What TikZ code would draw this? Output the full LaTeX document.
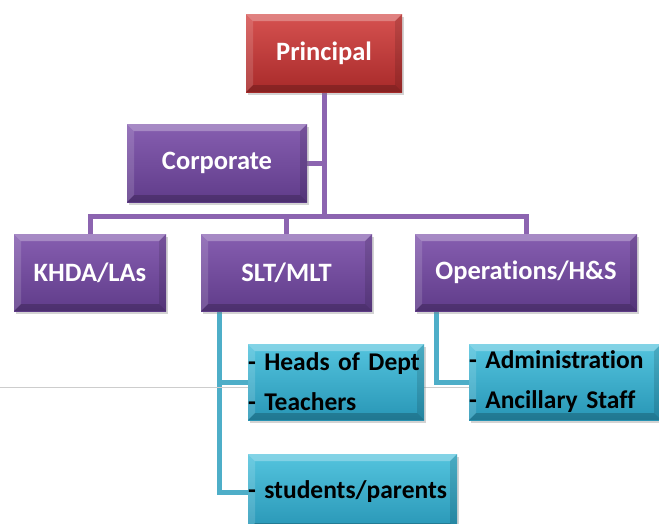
\documentclass[tikz,border=0pt]{standalone}
\usepackage{fontspec}
\setmainfont{Carlito}[Ligatures={NoCommon}]
\usetikzlibrary{backgrounds,shadows}
\definecolor{redTop}{RGB}{214,82,80}
\definecolor{redBot}{RGB}{168,42,42}
\definecolor{purTop}{RGB}{134,94,176}
\definecolor{purBot}{RGB}{96,60,138}
\definecolor{tealTop}{RGB}{84,196,222}
\definecolor{tealBot}{RGB}{40,150,182}
\definecolor{purLine}{RGB}{140,100,176}
\definecolor{tealLine}{RGB}{78,174,200}
\definecolor{slideLine}{RGB}{205,205,205}
\tikzset{
  bevel/.style={path picture={
    \fill[white,opacity=0.28] (path picture bounding box.north west) -- (path picture bounding box.north east)
      -- ([xshift=-7pt,yshift=-7pt]path picture bounding box.north east) -- ([xshift=7pt,yshift=-7pt]path picture bounding box.north west) -- cycle;
    \fill[white,opacity=0.14] (path picture bounding box.north west) -- (path picture bounding box.south west)
      -- ([xshift=7pt,yshift=7pt]path picture bounding box.south west) -- ([xshift=7pt,yshift=-7pt]path picture bounding box.north west) -- cycle;
    \fill[black,opacity=0.12] (path picture bounding box.north east) -- (path picture bounding box.south east)
      -- ([xshift=-7pt,yshift=7pt]path picture bounding box.south east) -- ([xshift=-7pt,yshift=-7pt]path picture bounding box.north east) -- cycle;
    \fill[black,opacity=0.2] (path picture bounding box.south west) -- (path picture bounding box.south east)
      -- ([xshift=-7pt,yshift=7pt]path picture bounding box.south east) -- ([xshift=7pt,yshift=7pt]path picture bounding box.south west) -- cycle;
  }},
  boxbase/.style={rectangle, bevel, inner sep=0pt, font=\fontsize{26.5}{30}\selectfont\bfseries,
    drop shadow={opacity=0.35,shadow xshift=2pt,shadow yshift=-3pt}},
  redbox/.style={boxbase, top color=redTop, bottom color=redBot, text=white},
  purbox/.style={boxbase, top color=purTop, bottom color=purBot, text=white},
  tealbox/.style={boxbase, top color=tealTop, bottom color=tealBot, text=black, align=left,
    font=\fontsize{25.5}{40}\selectfont\bfseries},
  purconn/.style={draw=purLine, line width=5pt},
  tealconn/.style={draw=tealLine, line width=5pt},
}
\begin{document}
\begin{tikzpicture}[x=1pt,y=1pt]
\useasboundingbox (0,0) rectangle (659,-523);
\clip (0,0) rectangle (659,-523);
\draw[slideLine, line width=1pt] (0,-387) -- (659,-387);

\node[redbox, minimum width=156pt, minimum height=78pt] (principal) at (324,-53) {Principal};
\node[purbox, minimum width=180pt, minimum height=78pt] (corporate) at (217,-163) {Corporate};
\node[purbox, minimum width=152pt, minimum height=77pt] (khda) at (90,-272.5) {KHDA/LAs};
\node[purbox, minimum width=171pt, minimum height=77pt] (slt) at (286.5,-272.5) {SLT/MLT};
\node[purbox, minimum width=222pt, minimum height=77pt] (ops) at (526,-272.5) {Operations/H\&S};
\node[tealbox, minimum width=176pt, minimum height=76pt, text width=176pt] (heads) at (336,-382) {- Heads of Dept\\- Teachers};
\node[tealbox, minimum width=192pt, minimum height=76pt, text width=192pt] (admin) at (565,-382) {- Administration\\- Ancillary Staff};
\node[tealbox, minimum width=209pt, minimum height=76pt, text width=209pt] (students) at (352.5,-492) {- students/parents};

\begin{scope}[on background layer]
  \coordinate (hub) at (principal.south |- 0,-216);
  \path[purconn] (principal.south) -- (hub);
  \path[purconn] (corporate.east) -- (corporate.east -| principal.south);
  \path[purconn] (khda.north) |- (hub) -| (ops.north);
  \path[purconn] (slt.north) -- (slt.north |- hub);
  \coordinate (sltL) at ([xshift=19pt]slt.south west);
  \coordinate (opsL) at ([xshift=22pt]ops.south west);
  \path[tealconn] (sltL) |- (heads.west);
  \path[tealconn] (sltL) |- (students.west);
  \path[tealconn] (opsL) |- (admin.west);
\end{scope}
\end{tikzpicture}
\end{document}
